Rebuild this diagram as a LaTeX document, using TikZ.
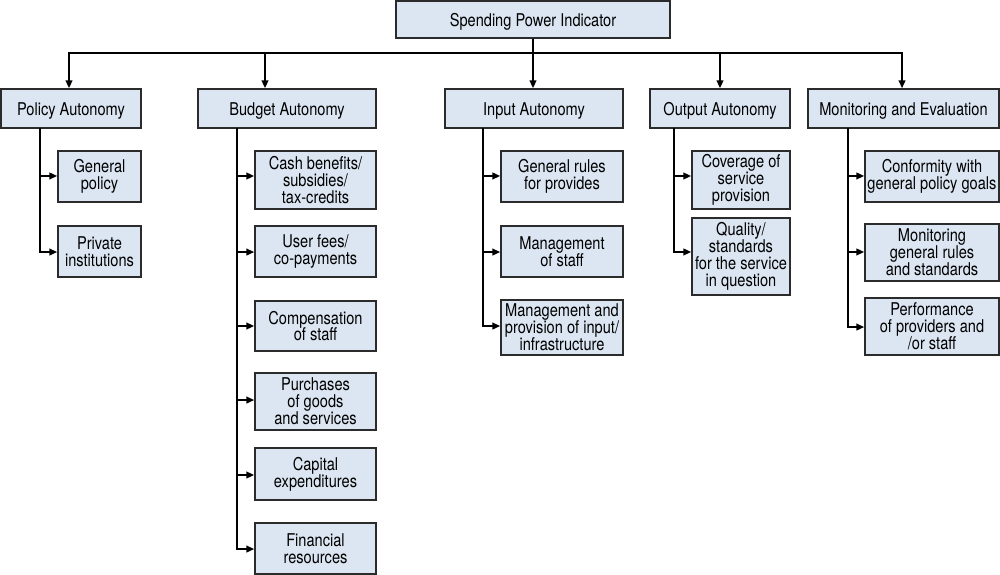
\documentclass[tikz,border=0pt]{standalone}
\usepackage{fontspec}
\setmainfont{TeX Gyre Heros}[FakeStretch=0.83]
\usetikzlibrary{arrows.meta}
\definecolor{boxfill}{HTML}{DCE6F2}
\definecolor{boxline}{HTML}{2B2B2B}
\begin{document}
\begin{tikzpicture}[x=0.75pt,y=-0.75pt,
  bx/.style={draw=boxline, fill=boxfill, line width=1.1pt, align=center, inner sep=0pt,
    font=\fontsize{13.2pt}{12.6pt}\selectfont},
  hd/.style={bx, text height=10.4pt, text depth=0pt},
  ln/.style={line width=1.5pt, black},
  arr/.style={ln, -{Triangle[length=6pt,width=5pt]}}]
\useasboundingbox (0,0) rectangle (1000,575);
% top
\node[hd, minimum width=274*0.75pt, minimum height=37*0.75pt] (top) at (533,19.5) {Spending Power Indicator};
% level 2
\node[hd, minimum width=140*0.75pt, minimum height=39*0.75pt] (pol) at (71,108.5) {Policy Autonomy};
\node[hd, minimum width=178*0.75pt, minimum height=39*0.75pt] (bud) at (287,108.5) {Budget Autonomy};
\node[hd, minimum width=178*0.75pt, minimum height=39*0.75pt] (inp) at (534,108.5) {Input Autonomy};
\node[hd, minimum width=140*0.75pt, minimum height=39*0.75pt] (out) at (720,108.5) {Output Autonomy};
\node[hd, minimum width=191*0.75pt, minimum height=39*0.75pt] (mon) at (903.5,108.5) {Monitoring and Evaluation};
% policy children
\node[bx, minimum width=83*0.75pt, minimum height=51*0.75pt] (gp) at (99.5,176.5) {General\\policy};
\node[bx, minimum width=83*0.75pt, minimum height=51*0.75pt] (pi) at (99.5,251.5) {Private\\institutions};
% budget children
\node[bx, minimum width=121*0.75pt, minimum height=58*0.75pt] (cb) at (315.5,180) {Cash benefits/\\subsidies/\\tax-credits};
\node[bx, minimum width=121*0.75pt, minimum height=51*0.75pt] (uf) at (315.5,251.5) {User fees/\\co-payments};
\node[bx, minimum width=121*0.75pt, minimum height=50*0.75pt] (cs) at (315.5,326) {Compensation\\of staff};
\node[bx, minimum width=121*0.75pt, minimum height=57*0.75pt] (pg) at (315.5,401.5) {Purchases\\of goods\\and services};
\node[bx, minimum width=121*0.75pt, minimum height=52*0.75pt] (ce) at (315.5,474) {Capital\\expenditures};
\node[bx, minimum width=121*0.75pt, minimum height=51*0.75pt] (fr) at (315.5,548.5) {Financial\\resources};
% input children
\node[bx, minimum width=122*0.75pt, minimum height=51*0.75pt] (gr) at (562,176.5) {General rules\\for provides};
\node[bx, minimum width=122*0.75pt, minimum height=51*0.75pt] (ms) at (562,251.5) {Management\\of staff};
\node[bx, minimum width=122*0.75pt, minimum height=55*0.75pt] (mp) at (562,327.5) {Management and\\provision of input/\\infrastructure};
% output children
\node[bx, minimum width=98*0.75pt, minimum height=58*0.75pt] (cv) at (741,180) {Coverage of\\service\\provision};
\node[bx, minimum width=98*0.75pt, minimum height=77*0.75pt] (qs) at (741,256.5) {Quality/\\standards\\for the service\\in question};
% monitoring children
\node[bx, minimum width=134*0.75pt, minimum height=51*0.75pt] (cf) at (932,176.5) {Conformity with\\general policy goals};
\node[bx, minimum width=134*0.75pt, minimum height=57*0.75pt] (mg) at (932,252.5) {Monitoring\\general rules\\and standards};
\node[bx, minimum width=134*0.75pt, minimum height=57*0.75pt] (pf) at (932,326.5) {Performance\\of providers and\\/or staff};
% bus
\coordinate (bus) at (533,53);
\draw[ln] (top.south) -- (bus);
\draw[arr] (bus) -| ([xshift=-1.5pt]pol.north);
\draw[arr] (bus) -| ([xshift=-16.5pt]bud.north);
\draw[arr] (bus) -- ([xshift=-0.75pt]inp.north);
\draw[arr] (bus) -| (out.north);
\draw[arr] (bus) -| ([xshift=-1.1pt]mon.north);
% verticals
\coordinate (pv) at (40,128);
\coordinate (bv) at (237,128);
\coordinate (iv) at (483,128);
\coordinate (ov) at (674,128);
\coordinate (mv) at (848,128);
\draw[arr] (pv) |- ([yshift=0.4pt]gp.west);
\draw[arr] (pv) |- ([yshift=-0.4pt]pi.west);
\draw[arr] (bv) |- ([yshift=3pt]cb.west);
\draw[arr] (bv) |- ([yshift=-0.4pt]uf.west);
\draw[arr] (bv) |- (cs.west);
\draw[arr] (bv) |- ([yshift=1.1pt]pg.west);
\draw[arr] (bv) |- ([yshift=-0.75pt]ce.west);
\draw[arr] (bv) |- ([yshift=-0.4pt]fr.west);
\draw[arr] (iv) |- ([yshift=0.4pt]gr.west);
\draw[arr] (iv) |- ([yshift=-0.4pt]ms.west);
\draw[arr] (iv) |- ([yshift=1.1pt]mp.west);
\draw[arr] (ov) |- ([yshift=3pt]cv.west);
\draw[arr] (ov) |- ([yshift=3.4pt]qs.west);
\draw[arr] (mv) |- ([yshift=0.4pt]cf.west);
\draw[arr] (mv) |- ([yshift=0.4pt]mg.west);
\draw[arr] (mv) |- ([yshift=-0.4pt]pf.west);
\end{tikzpicture}
\end{document}
